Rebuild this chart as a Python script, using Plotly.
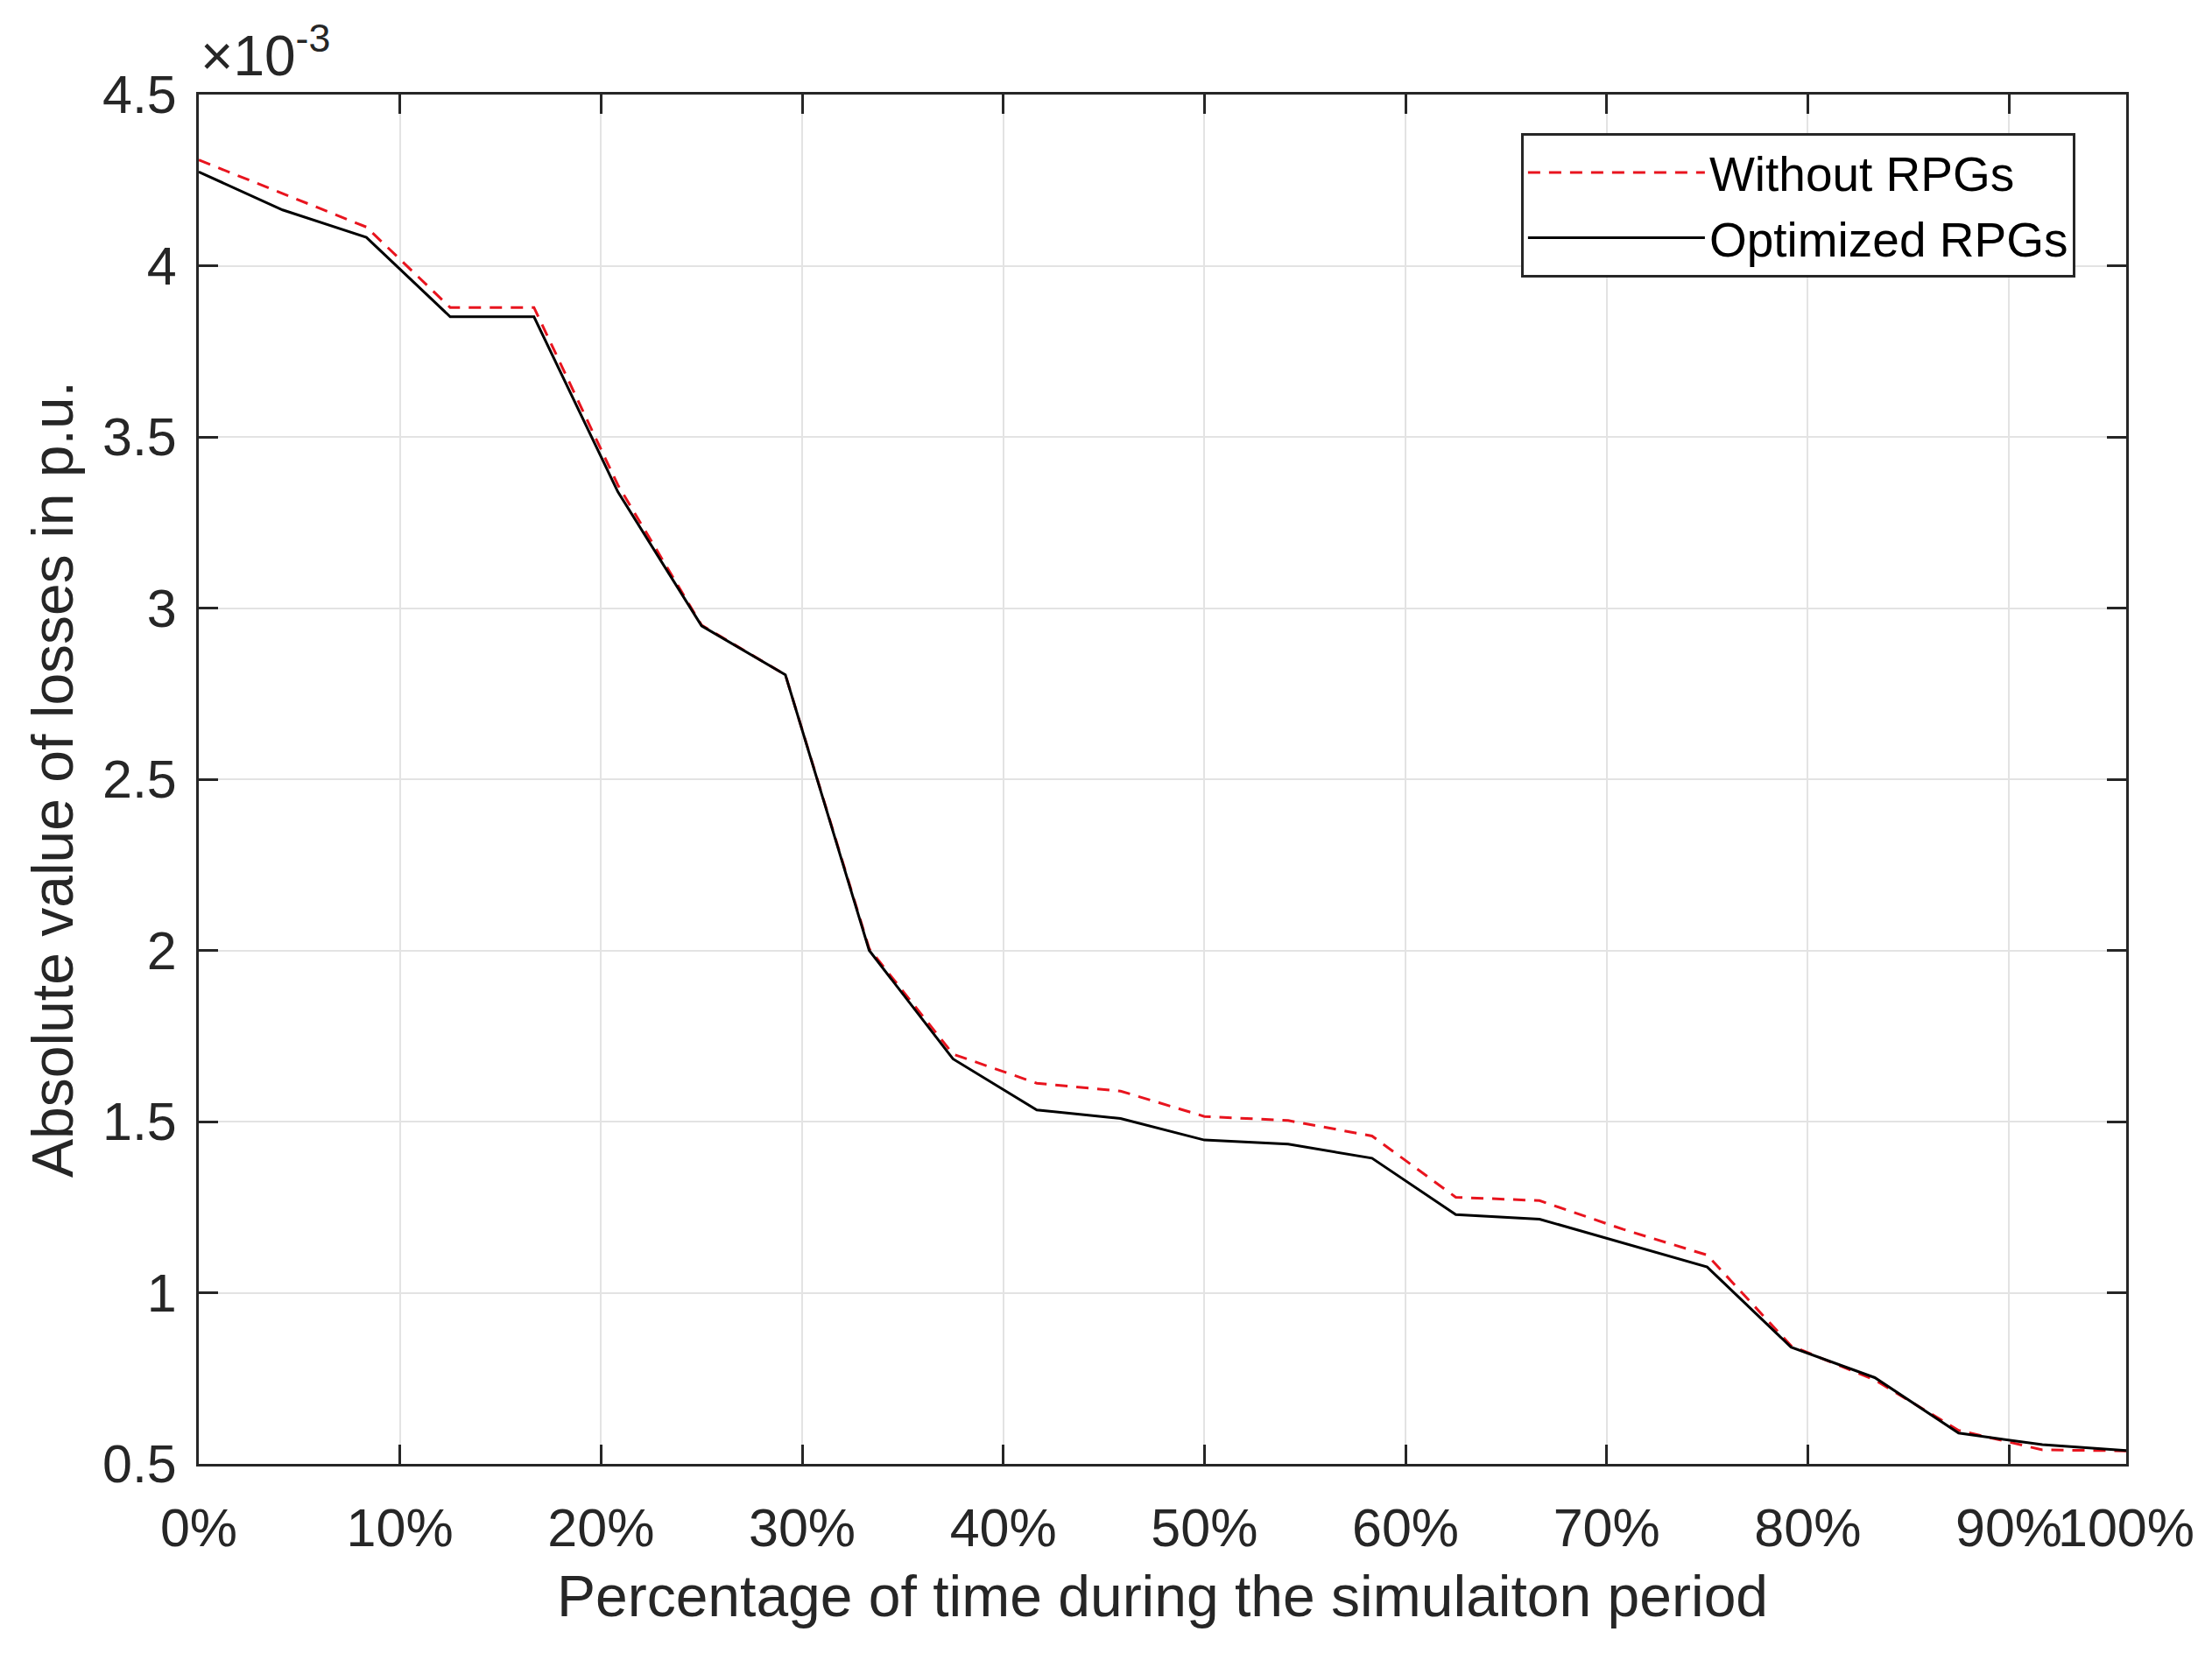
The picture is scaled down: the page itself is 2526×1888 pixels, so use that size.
import plotly.graph_objects as go

# ---- data (values in units of 1e-3 p.u.) ----
hour_index = list(range(24))
without_rpgs = [4.309, 4.210, 4.113, 3.878, 3.878, 3.360, 2.950, 2.805,
                2.005, 1.697, 1.612, 1.589, 1.515, 1.503, 1.458, 1.279,
                1.269, 1.185, 1.110, 0.845, 0.745, 0.598, 0.541, 0.538]
optimized_rpgs = [4.274, 4.163, 4.083, 3.851, 3.851, 3.340, 2.948, 2.805,
                  2.000, 1.683, 1.534, 1.509, 1.446, 1.434, 1.393, 1.228,
                  1.215, 1.144, 1.075, 0.841, 0.752, 0.590, 0.556, 0.539]

x_tick_pos = [0, 2.4, 4.8, 7.2, 9.6, 12.0, 14.4, 16.8, 19.2, 21.6, 23]
x_tick_text = ["0%", "10%", "20%", "30%", "40%", "50%", "60%", "70%", "80%", "90%", "100%"]
y_tick_pos = [0.5, 1, 1.5, 2, 2.5, 3, 3.5, 4, 4.5]
y_tick_text = ["0.5", "1", "1.5", "2", "2.5", "3", "3.5", "4", "4.5"]

FONT = "Liberation Sans, Arial, sans-serif"
AX = "#262626"
GRID = "#e3e3e3"

fig = go.Figure()
fig.add_trace(go.Scatter(
    x=hour_index, y=without_rpgs, mode="lines", name="Without RPGs",
    line=dict(color="#e8141e", width=3, dash="14px,10px")))
fig.add_trace(go.Scatter(
    x=hour_index, y=optimized_rpgs, mode="lines", name="Optimized RPGs",
    line=dict(color="black", width=3)))

axis_common = dict(
    showline=True, linecolor=AX, linewidth=3, mirror="ticks",
    ticks="inside", ticklen=22, tickwidth=3, tickcolor=AX,
    showgrid=True, gridcolor=GRID, gridwidth=2, zeroline=False,
    tickfont=dict(family=FONT, size=61, color=AX),
)

fig.update_layout(
    width=2510, height=1872,
    margin=dict(l=219, r=90, t=100, b=208),
    paper_bgcolor="white", plot_bgcolor="white",
    font=dict(family=FONT, color=AX),
    xaxis=dict(range=[0, 23], tickmode="array", tickvals=x_tick_pos, ticktext=x_tick_text,
               tickangle=0, ticklabelstandoff=18,
               title=dict(text="Percentage of time during the simulaiton period",
                          font=dict(family=FONT, size=66, color=AX), standoff=22),
               **axis_common),
    yaxis=dict(range=[0.5, 4.5], tickmode="array", tickvals=y_tick_pos, ticktext=y_tick_text,
               ticklabelstandoff=10,
               title=dict(text="Absolute value of losses in p.u.",
                          font=dict(family=FONT, size=66, color=AX), standoff=12),
               **axis_common),
    legend=dict(x=0.686, y=0.972, xanchor="left", yanchor="top",
                bgcolor="white", bordercolor=AX, borderwidth=3,
                font=dict(family=FONT, size=55, color="black"),
                itemwidth=202, tracegroupgap=0),
    showlegend=True,
)

fig.add_annotation(
    xref="paper", yref="paper", x=0.0, y=1.004, xanchor="left", yanchor="bottom",
    text="×10<sup>-3</sup>", showarrow=False,
    font=dict(family=FONT, size=64, color=AX))

fig.write_html("out.html")
